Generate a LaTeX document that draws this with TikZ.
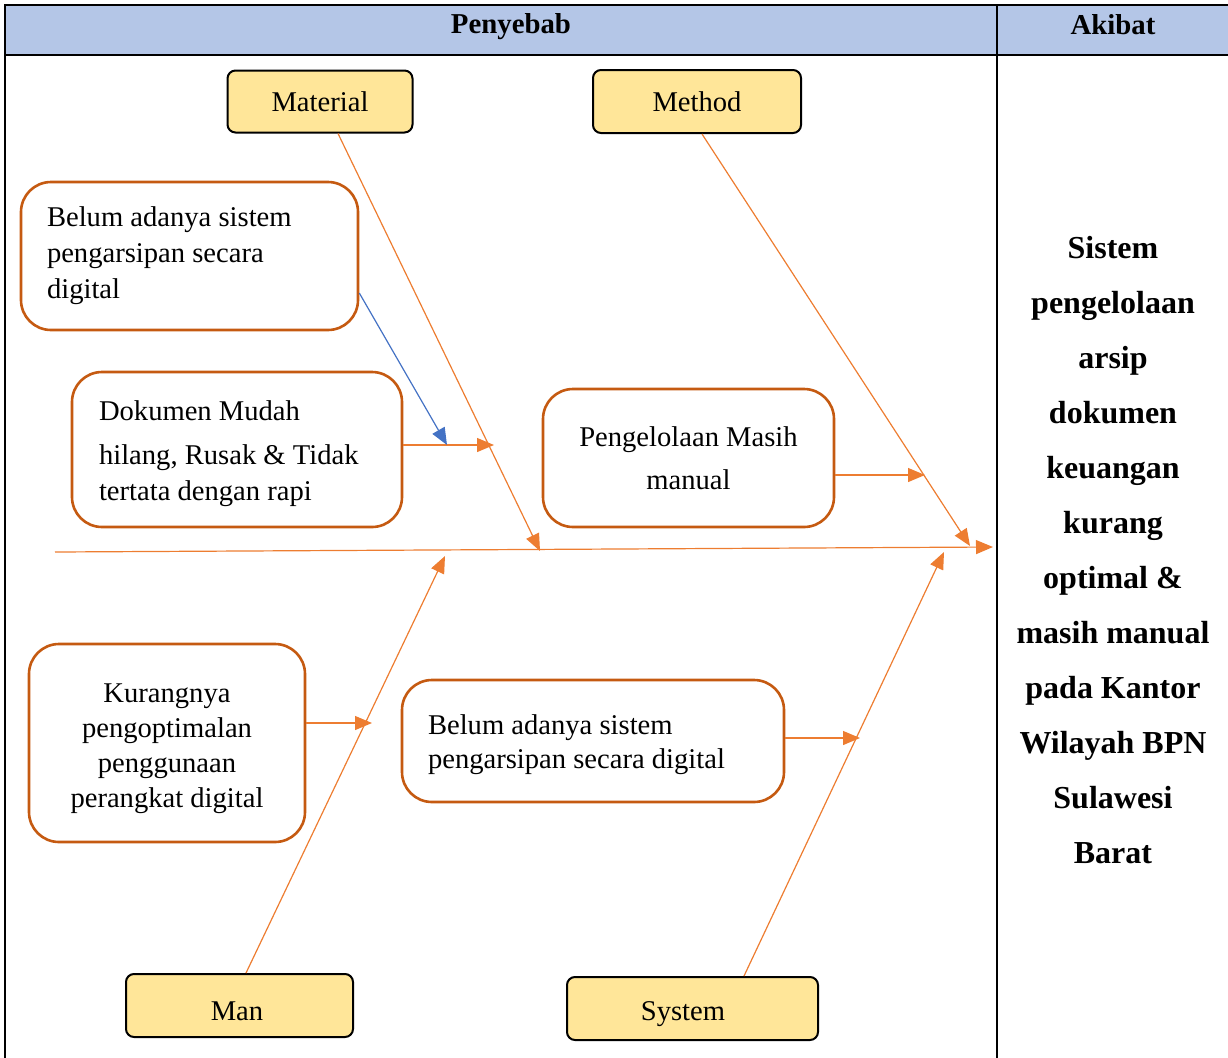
\documentclass[tikz,border=0pt]{standalone}
\usepackage{fontspec}
\setmainfont{Liberation Serif}
\usetikzlibrary{arrows.meta,calc}
\definecolor{hdr}{HTML}{B4C6E7}
\definecolor{yel}{HTML}{FFE699}
\definecolor{boxor}{HTML}{C55A11}
\definecolor{lor}{HTML}{ED7D31}
\definecolor{lblue}{HTML}{4472C4}
\tikzset{
  hdrtext/.style={font=\fontsize{14.4}{17}\selectfont\bfseries, inner sep=0pt},
  ybox/.style={draw=black, line width=1pt, fill=yel, rounded corners=4pt, inner sep=0pt},
  ylabel/.style={font=\fontsize{14.3}{17}\selectfont, inner sep=0pt},
  obox/.style={draw=boxor, line width=1.3pt, fill=white, rounded corners=15pt, inner ysep=0pt},
  rib/.style={draw=lor, line width=0.6pt, -{Triangle[length=8.5pt,width=7pt]}},
  bluearrow/.style={draw=lblue, line width=0.6pt, -{Triangle[length=8.5pt,width=7pt]}},
  akibattext/.style={font=\fontsize{16}{27.5}\selectfont\bfseries, align=center, inner sep=0pt}
}
\begin{document}
\begin{tikzpicture}[x=0.5pt,y=-0.5pt]
\useasboundingbox (0,0) rectangle (1228,1057);
% table
\fill[hdr] (5,5) rectangle (1240,55);
\draw[line width=1.2pt] (5,1070) -- (5,5) -- (1240,5);
\draw[line width=1pt] (5,55) -- (1240,55);
\draw[line width=1pt] (997,5) -- (997,1070);
\node[hdrtext] (penyebab) at (511,27) {Penyebab};
\node[hdrtext] (akibat) at (1113,25) {Akibat};
\node[akibattext] (effect) at (1113,550) {Sistem\\ pengelolaan\\ arsip\\ dokumen\\ keuangan\\ kurang\\ optimal \&\\ masih manual\\ pada Kantor\\ Wilayah BPN\\ Sulawesi\\ Barat};
% category boxes
\node[ybox, minimum width=92.5pt, minimum height=31pt, font=\fontsize{14.3}{17}\selectfont] (mat) at (320,101.5) {Material};
\node[ybox, minimum width=104pt, minimum height=31.5pt, font=\fontsize{14.3}{17}\selectfont] (mth) at (697,101.5) {Method};
\node[ybox, minimum width=113.5pt, minimum height=31.5pt] (man) at (239.5,1005.5) {};
\node[ylabel] (manT) at (237,1011.5) {Man};
\node[ybox, minimum width=125.5pt, minimum height=31.5pt] (sys) at (692.5,1008.5) {};
\node[ylabel] (sysT) at (683,1014.5) {System};
% cause boxes
\node[obox, minimum width=168.5pt, minimum height=74pt, inner xsep=13pt, text width=142.5pt, align=flush left, font=\fontsize{14.3}{18}\selectfont] (b1) at (189.5,256) {Belum adanya sistem\\ pengarsipan secara\\ digital};
\node[obox, minimum width=165pt, minimum height=77.5pt, inner xsep=13.5pt, text width=138pt, align=flush left, font=\fontsize{14.3}{18}\selectfont] (b2) at (237,449.5) {\rule{0pt}{14.5pt}Dokumen Mudah\\[4pt] hilang, Rusak \& Tidak\\ tertata dengan rapi};
\node[obox, minimum width=145.5pt, minimum height=69pt, align=center, font=\fontsize{14.3}{21.5}\selectfont] (b3) at (688.5,458) {Pengelolaan Masih\\ manual};
\node[obox, minimum width=138pt, minimum height=99pt, align=center, font=\fontsize{14.3}{17.5}\selectfont] (b4) at (167,743) {\rule{0pt}{15.5pt}Kurangnya\\ pengoptimalan\\ penggunaan\\ perangkat digital};
\node[obox, minimum width=191pt, minimum height=61pt, inner xsep=13pt, text width=165pt, align=flush left, font=\fontsize{14.3}{17}\selectfont] (b5) at (593,741) {\rule{0pt}{13.5pt}Belum adanya sistem\\ pengarsipan secara digital};
% coordinates
\coordinate (spineS) at (55,552);
\coordinate (head) at (993,547);
\coordinate (matE) at (540,551);
\coordinate (mthE) at (970,546);
\coordinate (manE) at (445,556);
\coordinate (sysE) at (944,552);
\coordinate (b1E) at (447,445);
\coordinate (b2E) at (494,445);
\coordinate (b3E) at (925,475);
\coordinate (b4E) at (372,723);
\coordinate (b5E) at (860,738);
% connectors
\draw[rib] (spineS) -- (head);
\draw[rib] ([xshift=9pt]mat.south) -- (matE);
\draw[rib] ([xshift=2.5pt]mth.south) -- (mthE);
\draw[rib] ([xshift=3.25pt]man.north) -- (manE);
\draw[rib] ([xshift=25.75pt]sys.north) -- (sysE);
\draw[rib] ([yshift=2.25pt]b2.east) -- (b2E);
\draw[bluearrow] ([yshift=-18.5pt]b1.east) -- (b1E);
\draw[rib] ([yshift=-8.5pt]b3.east) -- (b3E);
\draw[rib] ([yshift=10pt]b4.east) -- (b4E);
\draw[rib] ([yshift=1.5pt]b5.east) -- (b5E);
\end{tikzpicture}
\end{document}
